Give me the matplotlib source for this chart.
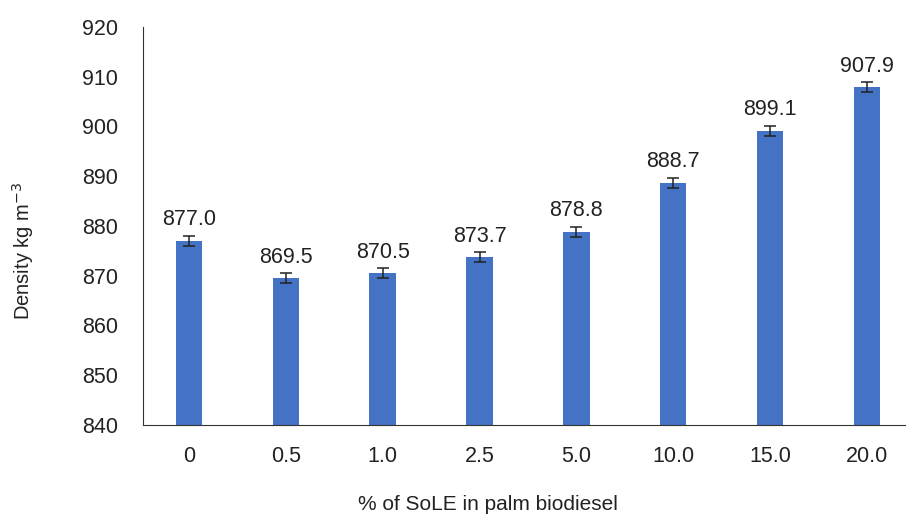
import matplotlib.pyplot as plt
import numpy as np

plt.rcParams['font.family'] = ['Liberation Sans', 'DejaVu Sans']

# SoLE fraction in palm biodiesel vs density
categorias = ['0', '0.5', '1.0', '2.5', '5.0', '10.0', '15.0', '20.0']
densidade = [877.0, 869.5, 870.5, 873.7, 878.8, 888.7, 899.1, 907.9]
erro = [1.0, 1.0, 1.0, 1.0, 1.0, 1.0, 1.0, 1.0]

fig = plt.figure(figsize=(9.06, 5.17), dpi=100)
ax = fig.add_axes([0.158, 0.178, 0.842, 0.77])

x = np.arange(len(categorias))
ax.bar(x, densidade, width=0.27, color='#4472C4', zorder=2)
ax.errorbar(x, densidade, yerr=erro, fmt='none', ecolor='#222222',
            elinewidth=1.1, capsize=4, capthick=1.1, zorder=3)

for xi, v, e in zip(x, densidade, erro):
    ax.annotate(f'{v:.1f}', (xi, v + e), xytext=(0, 4), textcoords='offset points',
                ha='center', va='bottom', fontsize=15.5, color='#222222')

ax.set_ylim(840, 920)
ax.set_yticks(np.arange(840, 921, 10))
ax.set_xlim(-0.47, 7.4)
ax.set_xticks(x)
ax.set_xticklabels(categorias)
ax.tick_params(axis='both', length=0, labelsize=15.5, colors='#222222')
ax.tick_params(axis='y', pad=18)
ax.tick_params(axis='x', pad=15)

for lado in ['top', 'right']:
    ax.spines[lado].set_visible(False)
ax.spines['left'].set_color('#333333')
ax.spines['bottom'].set_color('#333333')

ax.set_ylabel('Density kg m$^{-3}$', fontsize=14.5, color='#222222', va='center')
ax.yaxis.set_label_coords(-0.157, 0.437)
ax.set_xlabel('% of SoLE in palm biodiesel', fontsize=15, color='#222222', va='center')
ax.xaxis.set_label_coords(0.452, -0.201)

fig.savefig('out.png', dpi=100)
